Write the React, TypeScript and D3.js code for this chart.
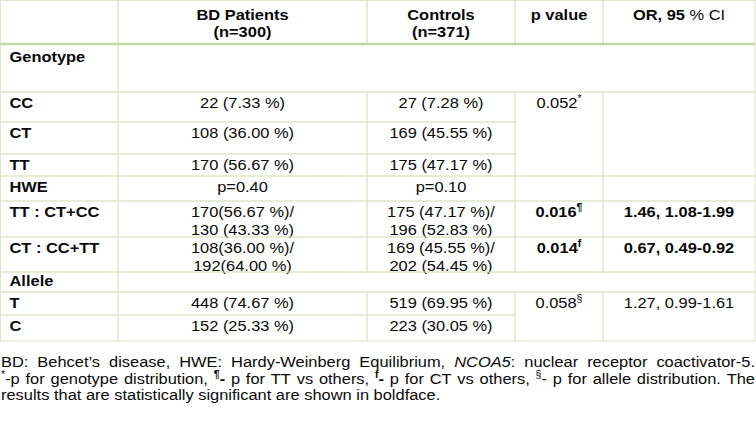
import React, { useMemo } from 'react';
import * as d3 from 'd3';

// ---------- data ----------
const headers = [[''], ['BD Patients', '(n=300)'], ['Controls', '(n=371)'], ['p value'], ['OR, 95 % CI']];
const rowLabels = ['Genotype', 'CC', 'CT', 'TT', 'HWE', 'TT : CT+CC', 'CT : CC+TT', 'Allele', 'T', 'C'];
const bdValues = ['', '22 (7.33 %)', '108 (36.00 %)', '170 (56.67 %)', 'p=0.40', '170(56.67 %)/\n130 (43.33 %)', '108(36.00 %)/\n192(64.00 %)', '', '448 (74.67 %)', '152 (25.33 %)'];
const controlValues = ['', '27 (7.28 %)', '169 (45.55 %)', '175 (47.17 %)', 'p=0.10', '175 (47.17 %)/\n196 (52.83 %)', '169 (45.55 %)/\n202 (54.45 %)', '', '519 (69.95 %)', '223 (30.05 %)'];
// p value / OR groups: start row index (in rowLabels), row span
const pRowStart = [1, 5, 6, 8];
const pRowSpan = [3, 1, 1, 2];
const pValues = ['0.052', '0.016', '0.014', '0.058'];
const pMarks = ['*', '¶', 'f', '§'];
const orValues = ['', '1.46, 1.08-1.99', '0.67, 0.49-0.92', '1.27, 0.99-1.61'];
const significant = [false, true, true, false];
const mergedRows = [0, 7]; // rows whose value columns are one merged empty cell
const emptyPRows = [4]; // HWE row: empty p / OR cells

type Seg = { t: string; b?: boolean; i?: boolean; sup?: boolean };
const captionLines: Seg[][][] = [
  [
    [{ t: 'BD:' }], [{ t: 'Behcet’s' }], [{ t: 'disease,' }], [{ t: 'HWE:' }], [{ t: 'Hardy-Weinberg' }],
    [{ t: 'Equilibrium,' }], [{ t: 'NCOA5', i: true }, { t: ':' }], [{ t: 'nuclear' }], [{ t: 'receptor' }], [{ t: 'coactivator-5.' }],
  ],
  [
    [{ t: '*', sup: true }, { t: '-p' }], [{ t: 'for' }], [{ t: 'genotype' }], [{ t: 'distribution,' }],
    [{ t: '¶', sup: true, b: true }, { t: '-', b: true }], [{ t: 'p' }], [{ t: 'for' }], [{ t: 'TT' }], [{ t: 'vs' }], [{ t: 'others,' }],
    [{ t: 'f', sup: true, b: true }, { t: '-', b: true }], [{ t: 'p' }], [{ t: 'for' }], [{ t: 'CT' }], [{ t: 'vs' }], [{ t: 'others,' }],
    [{ t: '§', sup: true }, { t: '-' }], [{ t: 'p' }], [{ t: 'for' }], [{ t: 'allele' }], [{ t: 'distribution.' }], [{ t: 'The' }],
  ],
  [
    [{ t: 'results' }], [{ t: 'that' }], [{ t: 'are' }], [{ t: 'statistically' }], [{ t: 'significant' }],
    [{ t: 'are' }], [{ t: 'shown' }], [{ t: 'in' }], [{ t: 'boldface.' }],
  ],
];

// ---------- layout ----------
const W = 756, H = 425;
const FONT = "'Liberation Sans', Arial, Helvetica, sans-serif";
const FS = 15.5;
const SUP = 10;
const SX = 1.06;
const colEdges = [0.5, 118, 367, 515, 603, 755];
const rowEdges = [0.5, 44, 92, 122, 154, 176, 201, 237, 272, 292, 315, 341];
const LINE = 17.5;
const TOP_OFF = 16;
const HEADER_OFF = 19;
const GRID = '#dfe6c8';
const THICK = '#c5d89f';
const TEXT = '#0a0a0a';
const captionBase = [367, 384, 400];
const captionLeft = 1, captionRight = 755;

const x = d3.scaleOrdinal<number, number>().domain(d3.range(colEdges.length)).range(colEdges);
const y = d3.scaleOrdinal<number, number>().domain(d3.range(rowEdges.length)).range(rowEdges);

type Cell = { r: number; c: number; rs: number; cs: number; lines: Seg[][]; align: 'start' | 'middle'; header?: boolean };

function buildCells(): Cell[] {
  const cells: Cell[] = [];
  headers.forEach((h, c) => {
    const lines: Seg[][] = h.map((t) => {
      if (t === 'OR, 95 % CI') return [{ t: 'OR, 95', b: true }, { t: ' % CI' }];
      return [{ t, b: true }];
    });
    cells.push({ r: 0, c, rs: 1, cs: 1, lines, align: 'middle', header: true });
  });
  rowLabels.forEach((lab, i) => {
    const r = i + 1;
    cells.push({ r, c: 0, rs: 1, cs: 1, lines: [[{ t: lab, b: true }]], align: 'start' });
    if (mergedRows.includes(i)) {
      cells.push({ r, c: 1, rs: 1, cs: 4, lines: [], align: 'middle' });
      return;
    }
    cells.push({ r, c: 1, rs: 1, cs: 1, lines: bdValues[i].split('\n').map((t) => [{ t }]), align: 'middle' });
    cells.push({ r, c: 2, rs: 1, cs: 1, lines: controlValues[i].split('\n').map((t) => [{ t }]), align: 'middle' });
    if (emptyPRows.includes(i)) {
      cells.push({ r, c: 3, rs: 1, cs: 1, lines: [], align: 'middle' });
      cells.push({ r, c: 4, rs: 1, cs: 1, lines: [], align: 'middle' });
    }
    const k = pRowStart.indexOf(i);
    if (k >= 0) {
      const b = significant[k];
      cells.push({ r, c: 3, rs: pRowSpan[k], cs: 1, lines: [[{ t: pValues[k], b }, { t: pMarks[k], b, sup: true }]], align: 'middle' });
      cells.push({ r, c: 4, rs: pRowSpan[k], cs: 1, lines: orValues[k] ? [[{ t: orValues[k], b }]] : [], align: 'middle' });
    }
  });
  return cells;
}

function SegText({ segs }: { segs: Seg[] }) {
  return (
    <>
      {segs.map((s, j) => (
        <tspan
          key={j}
          fontWeight={s.b ? 'bold' : 'normal'}
          fontStyle={s.i ? 'italic' : 'normal'}
          fontSize={s.sup ? SUP : FS}
          baselineShift={s.sup ? '6' : undefined}
        >
          {s.t}
        </tspan>
      ))}
    </>
  );
}

let ctxCache: CanvasRenderingContext2D | null = null;
function measure(s: Seg): number {
  if (!ctxCache) ctxCache = document.createElement('canvas').getContext('2d');
  const ctx = ctxCache!;
  ctx.font = `${s.i ? 'italic ' : ''}${s.b ? 'bold ' : ''}${s.sup ? SUP : FS}px ${FONT}`;
  return ctx.measureText(s.t).width * SX;
}

export default function App() {
  const cells = useMemo(buildCells, []);
  const caption = useMemo(() => {
    const spaceW = measure({ t: ' ' });
    return captionLines.map((words, li) => {
      const widths = words.map((w) => d3.sum(w, measure));
      const total = d3.sum(widths);
      const justify = li < captionLines.length - 1;
      const gap = justify ? (captionRight - captionLeft - total) / (words.length - 1) : spaceW;
      let cx = captionLeft;
      return words.map((w, wi) => {
        const pos = cx;
        cx += widths[wi] + gap;
        return { w, pos };
      });
    });
  }, []);

  return (
    <svg width={W} height={H} style={{ position: 'absolute', left: 0, top: 0, background: '#fff' }} fontFamily={FONT} fontSize={FS}>
      <rect x={0} y={0} width={W} height={H} fill="#fff" />
      {cells.map((cell, k) => {
        const x0 = x(cell.c), x1 = x(cell.c + cell.cs);
        const y0 = y(cell.r), y1 = y(cell.r + cell.rs);
        const tx = cell.align === 'start' ? x0 + 9 : (x0 + x1) / 2;
        const off = cell.header ? HEADER_OFF : cell.r === 1 ? TOP_OFF + 2 : cell.r === 8 ? TOP_OFF - 2 : TOP_OFF;
        return (
          <g key={k}>
            <rect x={x0} y={y0} width={x1 - x0} height={y1 - y0} fill="none" stroke={GRID} strokeWidth={1} />
            {cell.lines.map((segs, li) => (
              <text
                key={li}
                transform={`translate(${tx},${y0 + off + li * LINE}) scale(${SX},1)`}
                textAnchor={cell.align}
                fill={TEXT}
              >
                <SegText segs={segs} />
              </text>
            ))}
          </g>
        );
      })}
      <line x1={colEdges[0]} x2={colEdges[colEdges.length - 1]} y1={rowEdges[1]} y2={rowEdges[1]} stroke={THICK} strokeWidth={2.5} />
      {caption.map((words, li) => (
        <g key={li}>
          {words.map(({ w, pos }, wi) => (
            <text key={wi} transform={`translate(${pos},${captionBase[li]}) scale(${SX},1)`} fill={TEXT}>
              <SegText segs={w} />
            </text>
          ))}
        </g>
      ))}
    </svg>
  );
}
